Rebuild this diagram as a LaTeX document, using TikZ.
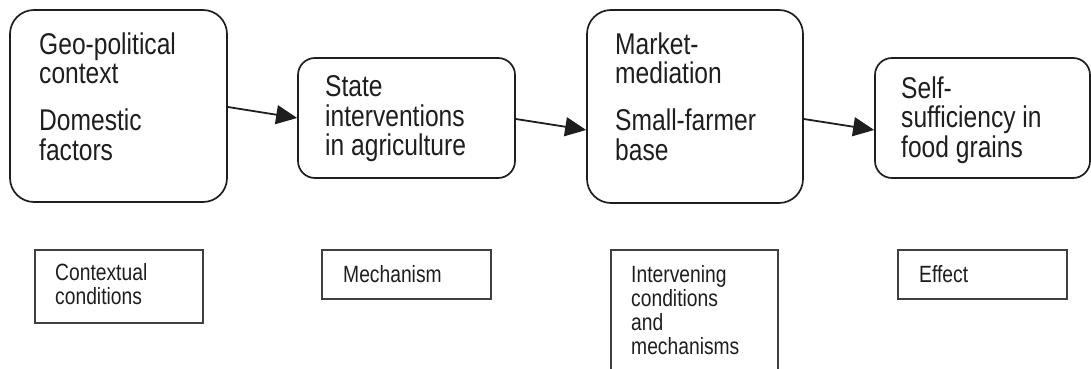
\documentclass[tikz,border=0pt]{standalone}
\usepackage{fontspec}
\setmainfont{Liberation Sans}[FakeStretch=0.82]
\usetikzlibrary{arrows.meta}
\definecolor{ink}{HTML}{1E1E1E}
\tikzset{
  bigbox/.style={draw=ink, line width=1.7pt, rounded corners=24pt, inner sep=0pt},
  smallround/.style={draw=ink, line width=1.7pt, rounded corners=17pt, inner sep=0pt},
  labelbox/.style={draw=ink!85, line width=1.6pt, inner sep=0pt},
  bigtext/.style={anchor=north west, inner sep=0pt, align=left, text=ink,
    font=\fontsize{30}{29.7}\selectfont},
  smalltext/.style={anchor=north west, inner sep=0pt, align=left, text=ink,
    font=\fontsize{23.5}{24}\selectfont},
  flow/.style={draw=ink, line width=1.8pt, -{Triangle[length=21pt, width=19pt]}}
}
\begin{document}
\begin{tikzpicture}[x=1pt, y=-1pt]
\useasboundingbox (0,0) rectangle (1091,369);
% main boxes
\node[bigbox, minimum width=217pt, minimum height=192pt] (b1) at (118.5,106) {};
\node[smallround, minimum width=217pt, minimum height=120pt] (b2) at (406.5,118) {};
\node[bigbox, minimum width=216pt, minimum height=193pt] (b3) at (695,106.5) {};
\node[smallround, minimum width=215pt, minimum height=120pt] (b4) at (982.5,118) {};
% texts
\node[bigtext] (t1) at (39,32.3) {Geo-political\\context\\[17pt]Domestic\\factors};
\node[bigtext] (t2) at (325,75.3) {State\\interventions\\in agriculture};
\node[bigtext] (t3) at (615,32.3) {Market-\\mediation\\[17pt]Small-farmer\\base};
\node[bigtext] (t4) at (901,76.3) {Self-\\sufficiency in\\food grains};
% connectors
\draw[flow] ([yshift=-1pt]b1.east) -- (b2.west);
\draw[flow] ([yshift=-1pt]b2.east) -- ([yshift=-23.5pt]b3.west);
\draw[flow] ([yshift=-12.5pt]b3.east) -- ([yshift=-12pt]b4.west);
% lower label boxes
\node[labelbox, minimum width=168pt, minimum height=73pt] (la) at (119,286.5) {};
\node[labelbox, minimum width=169pt, minimum height=49pt] (lb) at (406.5,274.5) {};
\node[inner sep=0pt, minimum width=167pt, minimum height=130pt] (lc) at (694.5,315) {};
\draw[draw=ink!85, line width=1.6pt] (lc.south west) |- (lc.north east) -- (lc.south east);
\node[labelbox, minimum width=169pt, minimum height=49pt] (ld) at (982.5,274.5) {};
\node[smalltext] (sa) at (55,263.2) {Contextual\\conditions};
\node[smalltext] (sb) at (343,265.2) {Mechanism};
\node[smalltext] (sc) at (631,265.2) {Intervening\\conditions\\and\\mechanisms};
\node[smalltext] (sd) at (919,265.2) {Effect};
\end{tikzpicture}
\end{document}
